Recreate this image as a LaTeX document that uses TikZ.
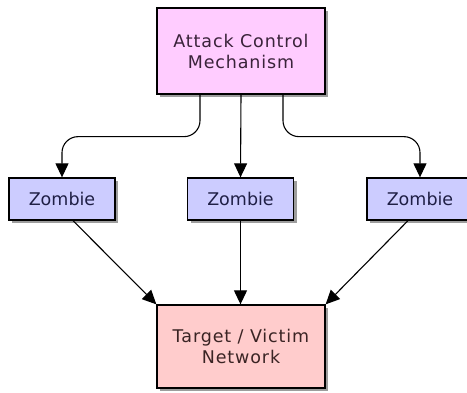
\documentclass[tikz,border=0pt]{standalone}
\usepackage{fontspec}
\setmainfont{DejaVu Sans}
\newfontfamily\widefont[LetterSpace=5]{DejaVu Sans}
\usetikzlibrary{arrows.meta,shadows}
\definecolor{topfill}{HTML}{FFCCFF}
\definecolor{zfill}{HTML}{CCCCFF}
\definecolor{botfill}{HTML}{FFCCCC}
\definecolor{toptext}{HTML}{3A233A}
\definecolor{ztext}{HTML}{1F1F45}
\definecolor{bottext}{HTML}{3A2424}
\tikzset{
  x=1pt, y=1pt,
  box/.style={draw=black, line width=1.3pt, inner sep=0pt, align=center,
    drop shadow={shadow xshift=3pt, shadow yshift=-3pt, opacity=0.55, fill=black!70}},
  topbox/.style={box, fill=topfill, text=toptext, minimum width=168pt, minimum height=86pt,
    font=\widefont\fontsize{17.5}{21}\selectfont},
  zbox/.style={box, fill=zfill, text=ztext, minimum width=106pt, minimum height=42pt,
    font=\fontsize{17.5}{21}\selectfont},
  botbox/.style={box, fill=botfill, text=bottext, minimum width=168pt, minimum height=83pt,
    font=\widefont\fontsize{17.5}{21}\selectfont},
  conn/.style={line width=1.1pt, -{Triangle[width=13pt,length=14pt]}},
}
\begin{document}
\begin{tikzpicture}
\useasboundingbox (0,0) rectangle (467,392);
\node[topbox] (acm) at (241,341) {Attack Control\\Mechanism};
\node[zbox] (z1) at (62,193) {Zombie};
\node[zbox] (z2) at (240.5,193) {Zombie};
\node[zbox] (z3) at (420,193) {Zombie};
\node[botbox] (tv) at (241,45.5) {Target / Victim\\Network};
\coordinate (l1) at ([xshift=-41pt]acm.south);
\coordinate (r1) at ([xshift=42pt]acm.south);
\draw[conn, rounded corners=16pt] (l1) -- ++(0,-42) -| (z1.north);
\draw[conn] (acm.south) -- (z2.north);
\draw[conn, rounded corners=16pt] (r1) -- ++(0,-42) -| (z3.north);
\draw[conn] ([xshift=11pt]z1.south) -- (tv.north west);
\draw[conn] (z2.south) -- (tv.north -| z2.south);
\draw[conn] ([xshift=-12pt]z3.south) -- (tv.north east);
\end{tikzpicture}
\end{document}
